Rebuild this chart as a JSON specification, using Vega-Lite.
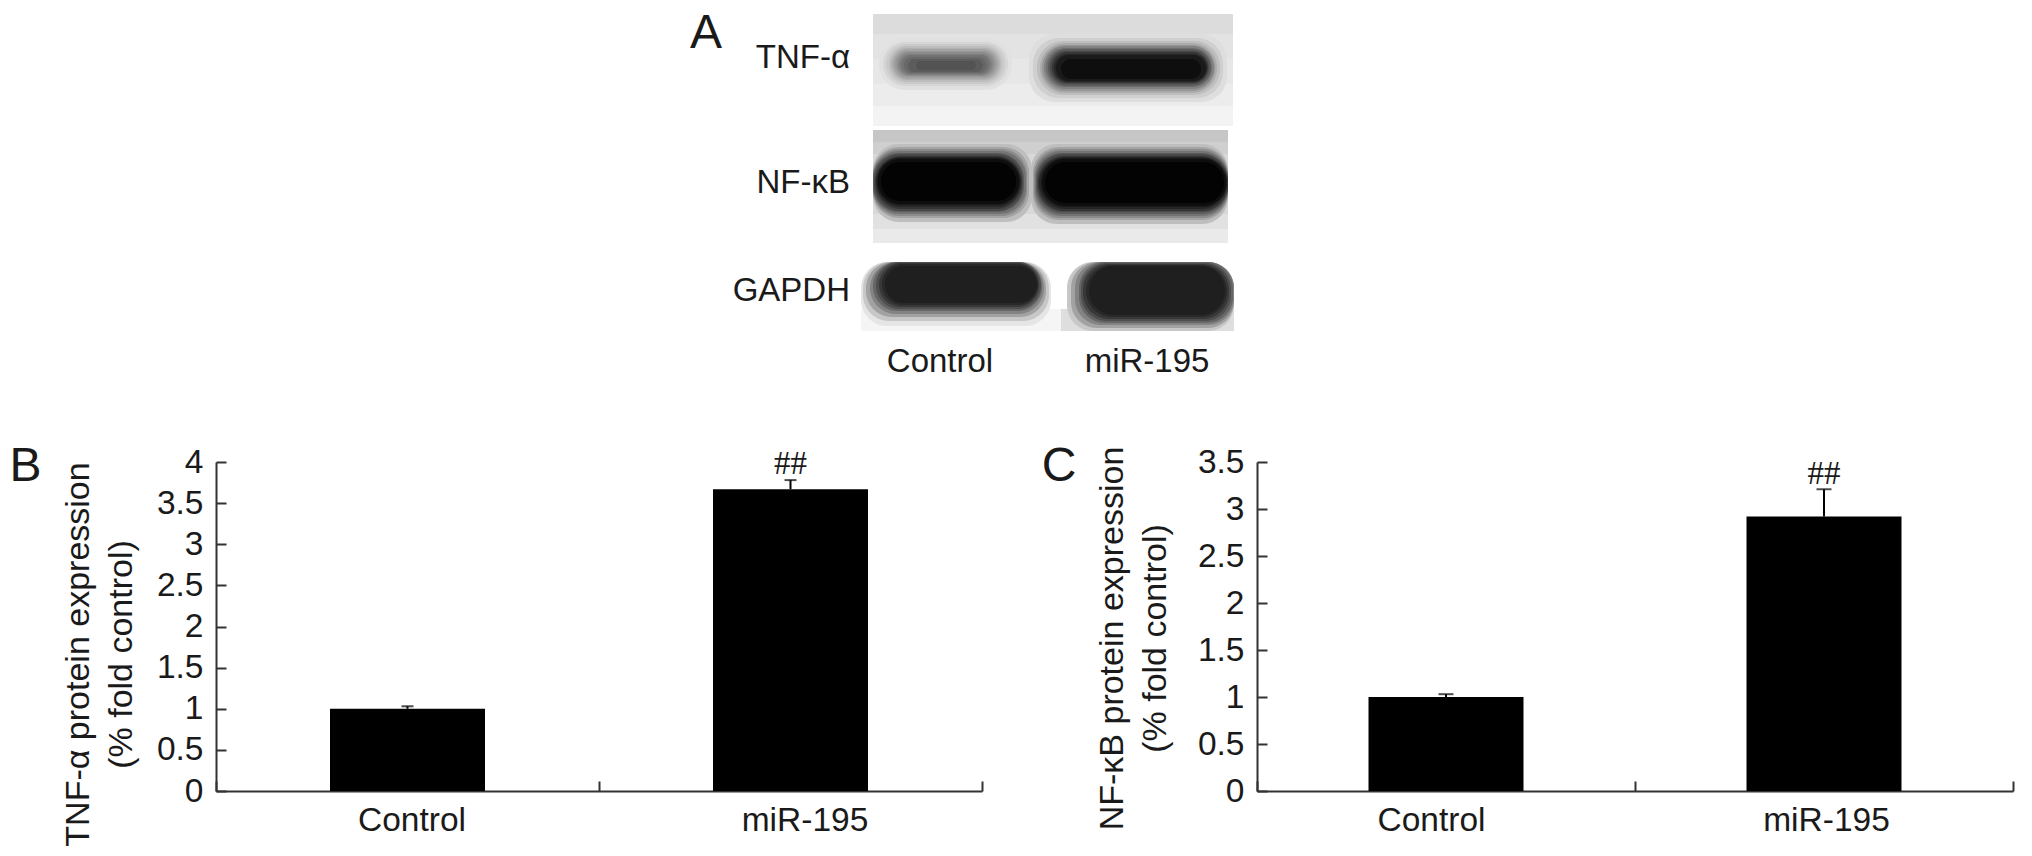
{
"$schema":"https://vega.github.io/schema/vega-lite/v6.json",
"background":"white",
"padding":{"left":9,"top":10,"right":0,"bottom":0},
"bounds":"flush",
"spacing":61,
"config":{"view":{"stroke":null},"axis":{"grid":false,"domainColor":"#333","domainWidth":2,"tickColor":"#333","tickWidth":2,"labelColor":"#1a1a1a","titleColor":"#1a1a1a","labelFont":"Liberation Sans","titleFont":"Liberation Sans","labelFontSize":33.5,"titleFontSize":34,"titleFontWeight":"normal","titleLineHeight":43},"text":{"font":"Liberation Sans","color":"#1a1a1a"}},
"vconcat":[
{"width":1800,"height":387,
 "data":{"values":[
 {"kind":"bg","x":12,"x2":372,"y":0,"y2":20,"grey":224},
 {"kind":"bg","x":12,"x2":372,"y":20,"y2":45,"grey":230},
 {"kind":"bg","x":12,"x2":372,"y":45,"y2":70,"grey":234},
 {"kind":"bg","x":12,"x2":372,"y":70,"y2":92,"grey":238},
 {"kind":"bg","x":12,"x2":372,"y":92,"y2":112,"grey":244},
 {"kind":"bg","x":12,"x2":367,"y":116,"y2":128,"grey":204},
 {"kind":"bg","x":12,"x2":367,"y":128,"y2":140,"grey":212},
 {"kind":"bg","x":12,"x2":367,"y":140,"y2":200,"grey":220},
 {"kind":"bg","x":12,"x2":367,"y":200,"y2":215,"grey":228},
 {"kind":"bg","x":12,"x2":367,"y":215,"y2":229,"grey":236},
 {"kind":"bg","x":0,"x2":200,"y":295,"y2":317,"grey":246},
 {"kind":"bg","x":200,"x2":373,"y":295,"y2":317,"grey":226},
 {"kind":"band","x":18,"x2":151,"y":24,"y2":76,"grey":228},
 {"kind":"band","x":22,"x2":147,"y":28,"y2":72,"grey":218},
 {"kind":"band","x":25,"x2":144,"y":30,"y2":70,"grey":208},
 {"kind":"band","x":28,"x2":141,"y":32,"y2":68,"grey":196},
 {"kind":"band","x":30,"x2":139,"y":34,"y2":66,"grey":184},
 {"kind":"band","x":32,"x2":137,"y":35,"y2":65,"grey":172},
 {"kind":"band","x":34,"x2":135,"y":37,"y2":63,"grey":160},
 {"kind":"band","x":36,"x2":133,"y":38,"y2":62,"grey":148},
 {"kind":"band","x":38,"x2":131,"y":40,"y2":61,"grey":136},
 {"kind":"band","x":40,"x2":129,"y":41,"y2":60,"grey":124},
 {"kind":"band","x":43,"x2":126,"y":43,"y2":59,"grey":112},
 {"kind":"band","x":47,"x2":122,"y":45,"y2":58,"grey":100},
 {"kind":"band","x":55,"x2":115,"y":47,"y2":56,"grey":90},
 {"kind":"band","x":168,"x2":366,"y":20,"y2":88,"grey":226},
 {"kind":"band","x":172,"x2":362,"y":24,"y2":84,"grey":212},
 {"kind":"band","x":176,"x2":359,"y":27,"y2":81,"grey":196},
 {"kind":"band","x":179,"x2":356,"y":29,"y2":79,"grey":178},
 {"kind":"band","x":181,"x2":354,"y":31,"y2":77,"grey":158},
 {"kind":"band","x":183,"x2":353,"y":32,"y2":75,"grey":138},
 {"kind":"band","x":185,"x2":351,"y":34,"y2":73,"grey":118},
 {"kind":"band","x":187,"x2":350,"y":35,"y2":72,"grey":98},
 {"kind":"band","x":189,"x2":348,"y":37,"y2":70,"grey":78},
 {"kind":"band","x":191,"x2":347,"y":38,"y2":69,"grey":58},
 {"kind":"band","x":193,"x2":346,"y":40,"y2":68,"grey":40},
 {"kind":"band","x":195,"x2":345,"y":41,"y2":67,"grey":24},
 {"kind":"band","x":200,"x2":340,"y":45,"y2":65,"grey":10},
 {"kind":"band","x":12,"x2":171,"y":130,"y2":208,"grey":196},
 {"kind":"band","x":12,"x2":168,"y":133,"y2":204,"grey":172},
 {"kind":"band","x":12,"x2":166,"y":135,"y2":202,"grey":148},
 {"kind":"band","x":12,"x2":165,"y":137,"y2":200,"grey":124},
 {"kind":"band","x":12,"x2":163,"y":139,"y2":198,"grey":100},
 {"kind":"band","x":13,"x2":162,"y":140,"y2":197,"grey":78},
 {"kind":"band","x":14,"x2":161,"y":142,"y2":195,"grey":56},
 {"kind":"band","x":15,"x2":160,"y":143,"y2":193,"grey":38},
 {"kind":"band","x":16,"x2":159,"y":144,"y2":191,"grey":22},
 {"kind":"band","x":17,"x2":158,"y":145,"y2":190,"grey":10},
 {"kind":"band","x":20,"x2":155,"y":148,"y2":187,"grey":2},
 {"kind":"band","x":170,"x2":367,"y":130,"y2":210,"grey":196},
 {"kind":"band","x":172,"x2":367,"y":133,"y2":206,"grey":172},
 {"kind":"band","x":173,"x2":367,"y":135,"y2":204,"grey":148},
 {"kind":"band","x":174,"x2":367,"y":137,"y2":202,"grey":124},
 {"kind":"band","x":175,"x2":367,"y":139,"y2":200,"grey":100},
 {"kind":"band","x":176,"x2":367,"y":140,"y2":198,"grey":78},
 {"kind":"band","x":177,"x2":367,"y":142,"y2":197,"grey":56},
 {"kind":"band","x":178,"x2":366,"y":143,"y2":195,"grey":38},
 {"kind":"band","x":180,"x2":366,"y":144,"y2":193,"grey":22},
 {"kind":"band","x":181,"x2":365,"y":145,"y2":192,"grey":10},
 {"kind":"band","x":184,"x2":363,"y":148,"y2":189,"grey":2},
 {"kind":"band","x":0,"x2":190,"y":248,"y2":312,"grey":232},
 {"kind":"band","x":2,"x2":188,"y":248,"y2":307,"grey":205},
 {"kind":"band","x":5,"x2":185,"y":248,"y2":303,"grey":170},
 {"kind":"band","x":9,"x2":183,"y":248,"y2":300,"grey":140},
 {"kind":"band","x":12,"x2":181,"y":248,"y2":297,"grey":110},
 {"kind":"band","x":15,"x2":180,"y":248,"y2":295,"grey":85},
 {"kind":"band","x":18,"x2":178,"y":249,"y2":293,"grey":60},
 {"kind":"band","x":21,"x2":177,"y":250,"y2":291,"grey":42},
 {"kind":"band","x":24,"x2":176,"y":252,"y2":289,"grey":30},
 {"kind":"band","x":206,"x2":373,"y":248,"y2":317,"grey":205},
 {"kind":"band","x":210,"x2":373,"y":248,"y2":314,"grey":170},
 {"kind":"band","x":214,"x2":373,"y":248,"y2":311,"grey":140},
 {"kind":"band","x":218,"x2":372,"y":248,"y2":309,"grey":110},
 {"kind":"band","x":220,"x2":370,"y":249,"y2":307,"grey":85},
 {"kind":"band","x":222,"x2":368,"y":250,"y2":305,"grey":60},
 {"kind":"band","x":225,"x2":366,"y":251,"y2":303,"grey":42},
 {"kind":"band","x":228,"x2":364,"y":252,"y2":301,"grey":30}
 ]},
 "layer":[
 {"transform":[{"filter":"datum.kind=='bg'"}],"mark":{"type":"rect"},
  "encoding":{"x":{"field":"x","type":"quantitative","scale":{"domain":[-645,1155]},"axis":null},"x2":{"field":"x2"},"y":{"field":"y","type":"quantitative","scale":{"domain":[387,0]},"axis":null},"y2":{"field":"y2"},"color":{"field":"grey","type":"quantitative","scale":{"domain":[0,255],"range":["#000000","#ffffff"]},"legend":null}}},
 {"transform":[{"filter":"datum.kind=='band'"}],"mark":{"type":"rect","cornerRadius":26},
  "encoding":{"x":{"field":"x","type":"quantitative","scale":{"domain":[-645,1155]},"axis":null},"x2":{"field":"x2"},"y":{"field":"y","type":"quantitative","scale":{"domain":[387,0]},"axis":null},"y2":{"field":"y2"},"color":{"field":"grey","type":"quantitative","scale":{"domain":[0,255],"range":["#000000","#ffffff"]},"legend":null}}},
 {"data":{"values":[{"t":"TNF-α","x":-11,"y":44},{"t":"NF-κB","x":-11,"y":169},{"t":"GAPDH","x":-11,"y":277}]},
  "mark":{"type":"text","align":"right","baseline":"middle","fontSize":33},
  "encoding":{"x":{"field":"x","type":"quantitative","scale":{"domain":[-645,1155]},"axis":null},"y":{"field":"y","type":"quantitative","scale":{"domain":[387,0]},"axis":null},"text":{"field":"t"}}},
 {"data":{"values":[{"t":"Control","x":79,"y":348},{"t":"miR-195","x":286,"y":348}]},
  "mark":{"type":"text","align":"center","baseline":"middle","fontSize":33},
  "encoding":{"x":{"field":"x","type":"quantitative","scale":{"domain":[-645,1155]},"axis":null},"y":{"field":"y","type":"quantitative","scale":{"domain":[387,0]},"axis":null},"text":{"field":"t"}}},
 {"data":{"values":[{"t":"A","x":-155,"y":20}]},
  "mark":{"type":"text","align":"center","baseline":"middle","fontSize":48},
  "encoding":{"x":{"field":"x","type":"quantitative","scale":{"domain":[-645,1155]},"axis":null},"y":{"field":"y","type":"quantitative","scale":{"domain":[387,0]},"axis":null},"text":{"field":"t"}}}
 ]},
{"hconcat":[
 {"width":766,"height":329,
  "data":{"values":[{"group":"Control","value":1.0,"upper":1.03},{"group":"miR-195","value":3.67,"upper":3.78}]},
  "encoding":{"x":{"field":"group","type":"nominal","scale":{"type":"band","domain":["Control","miR-195"],"paddingInner":0,"paddingOuter":0},"axis":{"title":null,"labelAngle":0,"tickBand":"extent","tickSize":-10,"labelPadding":23,"labelOffset":{"expr":"datum.value=='miR-195'?14:4"}}}},
  "layer":[
  {"mark":{"type":"bar","size":155,"color":"#000000"},
   "encoding":{"y":{"field":"value","type":"quantitative","scale":{"domain":[0,4],"nice":false},"axis":{"values":[0,0.5,1,1.5,2,2.5,3,3.5,4],"format":"~g","tickSize":-10,"labelPadding":23,"title":["TNF-α protein expression","(% fold control)"],"titleX":-121,"titleY":192}}}},
  {"mark":{"type":"rule","color":"#000000","strokeWidth":2},
   "encoding":{"y":{"field":"value","type":"quantitative","scale":{"domain":[0,4],"nice":false}},"y2":{"field":"upper"}}},
  {"mark":{"type":"tick","orient":"horizontal","size":12,"thickness":2,"color":"#000000"},
   "encoding":{"y":{"field":"upper","type":"quantitative","scale":{"domain":[0,4],"nice":false}}}},
  {"data":{"values":[{"group":"miR-195","t":"##","pos":3.97}]},
   "mark":{"type":"text","font":"Liberation Serif","fontSize":33,"baseline":"middle"},
   "encoding":{"y":{"field":"pos","type":"quantitative","scale":{"domain":[0,4],"nice":false}},"text":{"field":"t"}}},
  {"data":{"values":[{"group":"Control","t":"B","pos":3.945}]},
   "mark":{"type":"text","fontSize":48,"baseline":"middle","dx":-382},
   "encoding":{"y":{"field":"pos","type":"quantitative","scale":{"domain":[0,4],"nice":false}},"text":{"field":"t"}}}
  ]},
 {"width":756,"height":329,
  "data":{"values":[{"group":"Control","value":1.0,"upper":1.03},{"group":"miR-195","value":2.92,"upper":3.21}]},
  "encoding":{"x":{"field":"group","type":"nominal","scale":{"type":"band","domain":["Control","miR-195"],"paddingInner":0,"paddingOuter":0},"axis":{"title":null,"labelAngle":0,"tickBand":"extent","tickSize":-10,"labelPadding":23,"labelOffset":{"expr":"datum.value=='miR-195'?2:-15"}}}},
  "layer":[
  {"mark":{"type":"bar","size":155,"color":"#000000"},
   "encoding":{"y":{"field":"value","type":"quantitative","scale":{"domain":[0,3.5],"nice":false},"axis":{"values":[0,0.5,1,1.5,2,2.5,3,3.5],"format":"~g","tickSize":-10,"labelPadding":23,"title":["NF-κB protein expression","(% fold control)"],"titleX":-128,"titleY":176}}}},
  {"mark":{"type":"rule","color":"#000000","strokeWidth":2},
   "encoding":{"y":{"field":"value","type":"quantitative","scale":{"domain":[0,3.5],"nice":false}},"y2":{"field":"upper"}}},
  {"mark":{"type":"tick","orient":"horizontal","size":15,"thickness":2,"color":"#000000"},
   "encoding":{"y":{"field":"upper","type":"quantitative","scale":{"domain":[0,3.5],"nice":false}}}},
  {"data":{"values":[{"group":"miR-195","t":"##","pos":3.37}]},
   "mark":{"type":"text","font":"Liberation Serif","fontSize":33,"baseline":"middle"},
   "encoding":{"y":{"field":"pos","type":"quantitative","scale":{"domain":[0,3.5],"nice":false}},"text":{"field":"t"}}},
  {"data":{"values":[{"group":"Control","t":"C","pos":3.45}]},
   "mark":{"type":"text","fontSize":48,"baseline":"middle","dx":-387},
   "encoding":{"y":{"field":"pos","type":"quantitative","scale":{"domain":[0,3.5],"nice":false}},"text":{"field":"t"}}}
  ]}
 ],"spacing":275,"bounds":"flush"}
]}
